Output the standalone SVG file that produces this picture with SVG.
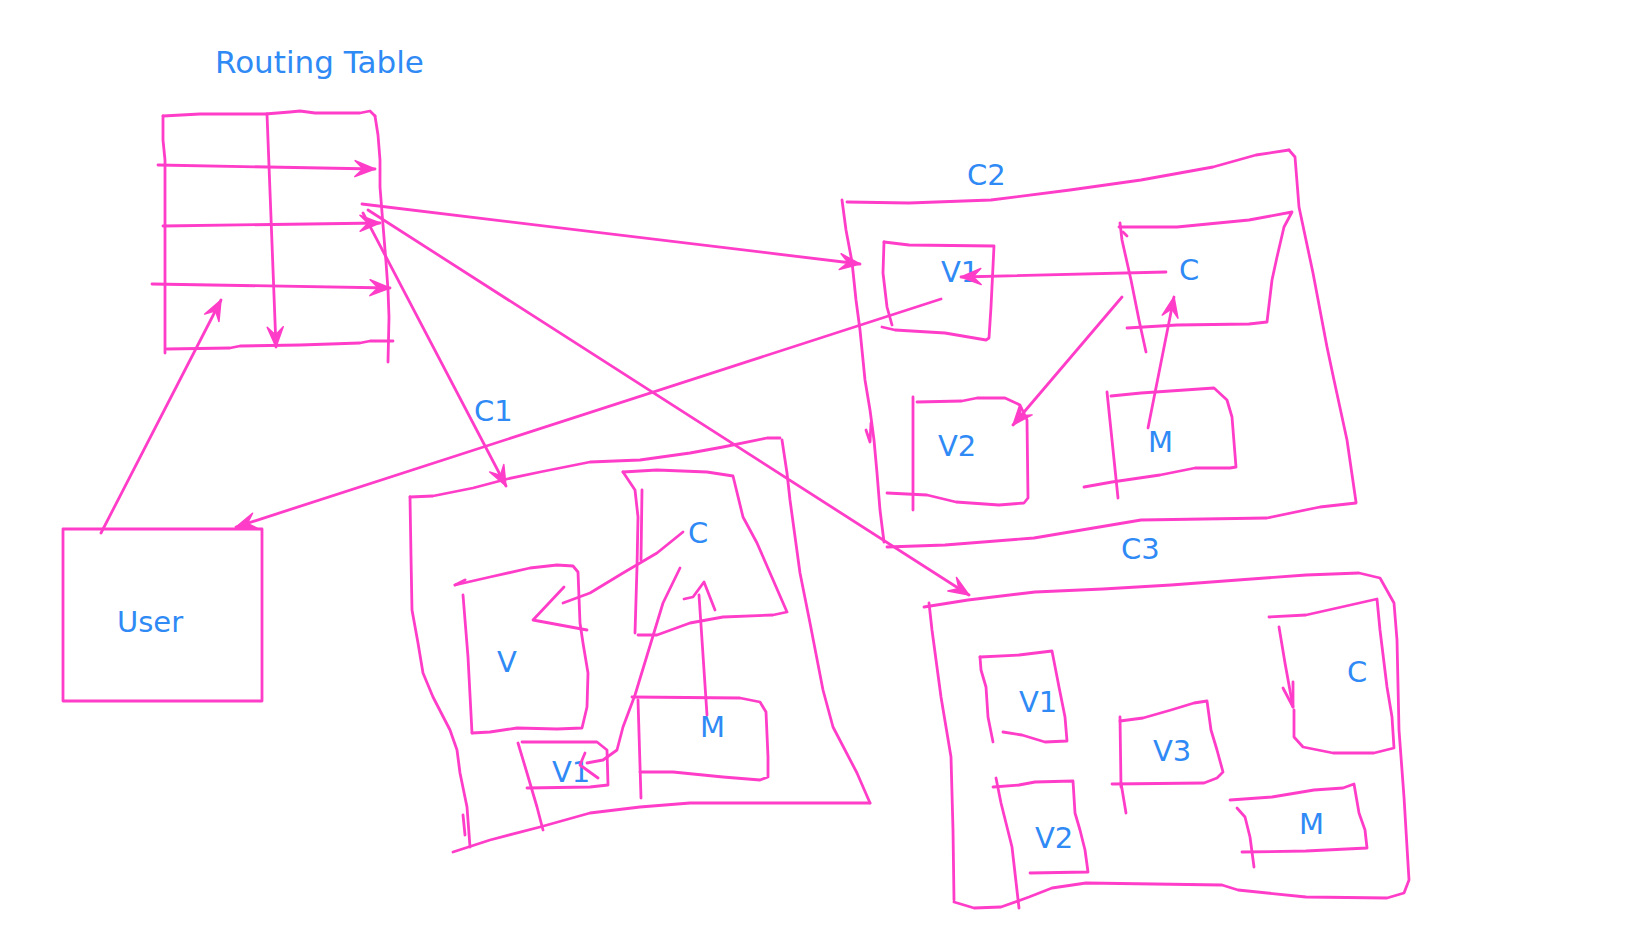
<svg xmlns="http://www.w3.org/2000/svg" width="1648" height="927" viewBox="0 0 1648 927">
<style>
.s{fill:none;stroke:#ff3dc8;stroke-width:2.8;stroke-linecap:round;stroke-linejoin:round}
.a{marker-end:url(#ah)}
.t{fill:#2f8af5;font-family:"DejaVu Sans","Liberation Sans",sans-serif;font-size:29px}
</style>
<defs>
<marker id="ah" viewBox="-22 -10 24 20" refX="0" refY="0" markerWidth="24" markerHeight="20" markerUnits="userSpaceOnUse" orient="auto">
<path d="M0,0 L-20,-8 L-12,0 L-20,8 Z" fill="#ff3dc8" stroke="#ff3dc8" stroke-width="1.5" stroke-linejoin="round"/>
</marker>
</defs>
<rect width="1648" height="927" fill="#ffffff"/>

<g id="routing-table">
<text class="t" x="215" y="73" style="font-size:31px">Routing Table</text>
<polyline class="s" points="163,116 200,114 245,114 265,114 290,112 300,111 315,113 360,113 370,111 375,116"/>
<polyline class="s" points="375,116 378,135 380,160 380,187 383,225 386,262 388,290 389,317 388,362"/>
<polyline class="s" points="163,116 163,140 165,160 165,353"/>
<polyline class="s" points="167,349 230,348 240,346 300,345 330,344 360,343 370,341 393,341"/>
<polyline class="s a" points="267,114 276,347"/>
<polyline class="s a" points="158,165 375,169"/>
<polyline class="s a" points="163,226 380,223"/>
<polyline class="s a" points="152,284 390,288"/>
</g>

<g id="user">
<rect class="s" x="63" y="529" width="199" height="172"/>
<text class="t" x="117" y="632">User</text>
</g>

<g id="c2">
<text class="t" x="967" y="185">C2</text>
<polyline class="s" points="847,202 909,203 991,200 1070,190 1141,180 1213,167 1256,155 1289,150"/>
<polyline class="s" points="842,200 846,230 852,262 856,300 860,330 865,380 870,410 874,440 877,473 880,510 884,542"/>
<polyline class="s" points="887,547 945,545 1034,538 1141,520 1267,518 1320,507 1356,503"/>
<polyline class="s" points="1289,150 1295,157 1299,207 1313,273 1327,347 1334,380 1347,440 1356,502"/>
<polyline class="s" points="866,430 870,442 871,423"/>
<g id="c2-v1">
<polyline class="s" points="884,242 909,245 994,246 991,307 989,338 986,340 945,333 895,330 882,327"/>
<polyline class="s" points="884,242 883,273 887,307 892,325"/>
<text class="t" x="941" y="282">V1</text>
</g>
<g id="c2-c">
<polyline class="s" points="1119,227 1177,227 1249,220 1292,212 1284,227 1277,257 1272,280 1267,322 1249,324 1177,325 1127,328"/>
<polyline class="s" points="1120,223 1122,240 1131,280 1139,320 1146,352"/>
<polyline class="s" points="1123,232 1127,236"/>
<text class="t" x="1179" y="280">C</text>
</g>
<g id="c2-v2">
<polyline class="s" points="913,397 913,510"/>
<polyline class="s" points="917,402 962,401 977,398 1005,398 1020,405 1027,420 1028,498 1024,503 999,505 956,502 927,495 887,493"/>
<text class="t" x="938" y="456">V2</text>
</g>
<g id="c2-m">
<polyline class="s" points="1107,392 1112,440 1118,498"/>
<polyline class="s" points="1111,396 1141,393 1214,388 1227,400 1232,417 1236,467 1230,468 1195,468 1160,475 1112,482 1084,487"/>
<text class="t" x="1148" y="452">M</text>
</g>
</g>

<g id="c1">
<text class="t" x="474" y="421">C1</text>
<polyline class="s" points="410,497 433,496 473,488 507,479 540,472 590,462 640,460 690,453 723,447 767,438 780,438"/>
<polyline class="s" points="782,440 787,473 790,500 800,573 810,623 823,690 833,727 857,773 870,803"/>
<polyline class="s" points="870,803 690,803 640,807 590,813 540,827 490,840 453,852"/>
<polyline class="s" points="410,497 411,557 412,610 418,643 423,673 433,697 450,730 457,750 460,773 467,807 470,847"/>
<polyline class="s" points="463,815 465,835"/>
<g id="c1-v">
<polyline class="s" points="455,585 465,580"/>
<polyline class="s" points="455,585 490,577 530,568 557,565 573,566 578,572 580,623 583,643 588,673 587,707 582,728 557,729 517,728 490,732 472,733"/>
<polyline class="s" points="463,595 468,657 472,733"/>
<text class="t" x="497" y="672">V</text>
</g>
<g id="c1-c">
<polyline class="s" points="623,472 657,470 707,472 733,476 743,517 757,543 787,612 773,615 723,617 690,623 657,635 638,635"/>
<polyline class="s" points="623,472 635,490 638,517 637,567 635,633"/>
<polyline class="s" points="642,490 641,560"/>
<text class="t" x="688" y="543">C</text>
</g>
<g id="c1-m">
<polyline class="s" points="632,697 740,698 760,702 766,712 768,757 768,777 760,780 723,777 673,772 640,772"/>
<polyline class="s" points="638,700 641,798"/>
<text class="t" x="700" y="737">M</text>
</g>
<g id="c1-v1">
<polyline class="s" points="522,742 557,742 597,742 607,750 608,785 590,787 527,788"/>
<polyline class="s" points="518,743 527,773 537,807 543,830"/>
<text class="t" x="552" y="782">V1</text>
</g>
</g>

<g id="c3">
<text class="t" x="1121" y="559">C3</text>
<polyline class="s" points="924,607 968,600 1035,592 1103,589 1171,585 1238,580 1306,575 1359,573 1380,578 1394,603 1397,640 1399,730 1404,797 1407,847 1409,880 1404,893 1387,898 1306,897 1238,890 1222,885 1086,883 1052,888 1029,897 1001,907 974,908 954,902"/>
<polyline class="s" points="929,603 932,630 941,697 951,757 953,830 954,900"/>
<g id="c3-v1">
<polyline class="s" points="980,657 1019,655 1052,651 1059,687 1065,717 1067,741 1045,742 1022,735 1003,732"/>
<polyline class="s" points="980,657 981,670 986,687 988,717 993,742"/>
<text class="t" x="1019" y="712">V1</text>
</g>
<g id="c3-v2">
<polyline class="s" points="993,787 1019,785 1035,782 1073,781 1075,813 1080,830 1085,850 1088,872 1030,873"/>
<polyline class="s" points="996,778 1001,803 1012,847 1019,908"/>
<text class="t" x="1035" y="848">V2</text>
</g>
<g id="c3-v3">
<polyline class="s" points="1120,721 1143,718 1171,710 1194,703 1207,701 1211,730 1217,750 1223,772 1217,778 1204,783 1112,784"/>
<polyline class="s" points="1120,717 1121,787"/>
<polyline class="s" points="1121,783 1126,813"/>
<text class="t" x="1153" y="761">V3</text>
</g>
<g id="c3-c">
<polyline class="s" points="1269,617 1306,615 1346,606 1377,599 1380,630 1387,687 1392,717 1394,748 1374,753 1333,753 1303,747 1294,737 1294,710"/>
<polyline class="s" points="1279,627 1285,663 1293,707"/>
<polyline class="s" points="1283,688 1293,707 1293,682"/>
<text class="t" x="1347" y="682">C</text>
</g>
<g id="c3-m">
<polyline class="s" points="1230,800 1272,797 1314,790 1343,788 1354,784 1359,813 1365,830 1367,848 1306,851 1242,852"/>
<polyline class="s" points="1237,808 1245,817 1250,837 1254,867"/>
<text class="t" x="1299" y="834">M</text>
</g>
</g>

<g id="connectors">
<polyline class="s a" points="101,533 221,300"/>
<polyline class="s a" points="362,204 860,264"/>
<polyline class="s a" points="363,213 506,486"/>
<polyline class="s a" points="368,210 969,595"/>
<polyline class="s a" points="941,299 236,527"/>
<polyline class="s a" points="1166,272 961,277"/>
<polyline class="s a" points="1122,297 1013,425"/>
<polyline class="s a" points="1148,428 1174,297"/>
<polyline class="s" points="683,532 657,553 623,573 590,593 563,603"/>
<polyline class="s" points="564,587 533,620 587,630"/>
<polyline class="s" points="680,568 663,603 635,695 623,727 617,750 603,760 587,763"/>
<polyline class="s" points="585,753 580,765 598,778"/>
<polyline class="s" points="707,715 699,595"/>
<polyline class="s" points="684,599 693,597 704,582 715,610"/>
</g>
</svg>
